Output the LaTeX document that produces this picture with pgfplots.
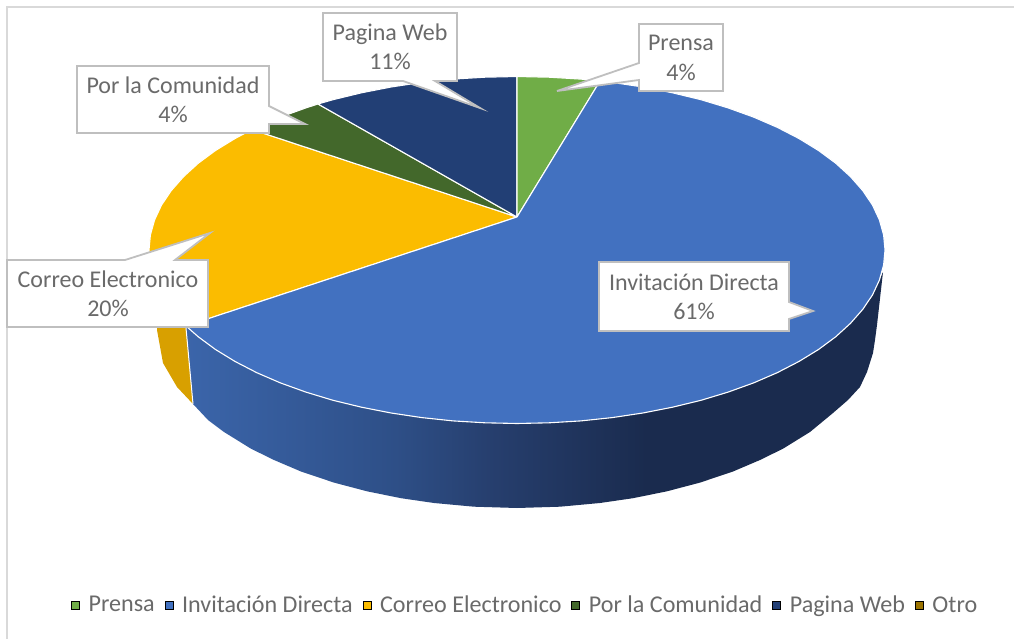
\documentclass[border=0pt]{standalone}
\usepackage{fontspec}
\setmainfont{Carlito}
\usepackage{pgfplots}
\pgfplotsset{compat=1.18}
\definecolor{cgreen}{HTML}{70AD47}
\definecolor{cblue}{HTML}{4271C0}
\definecolor{cyellow}{HTML}{FBBC00}
\definecolor{cdgreen}{HTML}{43682B}
\definecolor{cnavy}{HTML}{223F75}
\definecolor{cotro}{HTML}{9C7400}
\definecolor{cyside}{HTML}{D8A000}
\definecolor{lab}{HTML}{6A6A6A}
\definecolor{bord}{HTML}{BFBFBF}
\definecolor{frame}{HTML}{D9D9D9}
\pgfdeclarehorizontalshading{sideblue}{100bp}{%
 rgb(0bp)=(0.231,0.396,0.667);
 rgb(25bp)=(0.231,0.396,0.667);
 rgb(40bp)=(0.180,0.310,0.530);
 rgb(47bp)=(0.150,0.245,0.430);
 rgb(58bp)=(0.102,0.169,0.306);
 rgb(100bp)=(0.102,0.169,0.306)}
\begin{document}
\begin{tikzpicture}[x=1pt,y=1pt]
\begin{axis}[
  name=a,
  scale only axis, width=1014pt, height=639pt,
  xmin=0, xmax=1014, ymin=0, ymax=639, y dir=reverse,
  hide axis, clip=false,
  slice/.style={forget plot, draw=white, line width=1.1pt, line join=round},
  callout/.style={forget plot, draw=bord, fill=white, line width=1.8pt, line join=miter},
  legend image code/.code={\fill[#1] (0pt,-4pt) rectangle (8pt,4pt);},
  legend columns=-1,
  legend style={at={(axis cs:68,605)}, anchor=west, draw=none, fill=none,
    font=\fontsize{24.1}{28}\selectfont, text=lab,
    /tikz/every odd column/.append style={column sep=7pt},
    /tikz/every even column/.append style={column sep=8pt}},
]
% frame
\addplot[forget plot, draw=frame, line width=2pt] coordinates {(7,639) (7,7) (1014,7)};
% yellow side
\addplot[forget plot, fill=cyside, draw=none] coordinates {
 (161.5,294.9) (157,330) (163,363) (177,387) (193,404) (186,326) (183.5,323.3) (171.2,309.3)} --cycle;
% blue side
\addplot[forget plot, draw=none, shade, shading=sideblue] coordinates {
 (186,326) (198.3,336.8) (215.5,349.5) (235.1,361.5) (256.8,372.7) (280.4,382.9) (305.9,392.1)
 (333,400.3) (361.5,407.2) (391.1,413) (421.8,417.6) (453.1,420.9) (484.9,422.8) (517,423.5)
 (549.1,422.8) (580.9,420.9) (612.2,417.6) (642.9,413) (672.5,407.2) (701,400.3) (728.1,392.1)
 (753.6,382.9) (777.2,372.7) (798.9,361.5) (818.5,349.5) (835.7,336.8) (850.5,323.3) (862.8,309.3)
 (872.5,294.9) (883,272)
 (877,325) (875,340) (873,353) (867,372) (860,387) (848,400) (833,413) (810,432) (783,448.7)
 (760,460) (733,471.5) (700,482.6) (667,491.3) (633,498.2) (600,503) (560,506.7) (517,508)
 (474,506.7) (434,503) (401,498.2) (367,491.3) (334,482.6) (301,471.5) (274,460) (251,448.7)
 (224,432) (208,420) (193,404)} --cycle;
\addplot[forget plot, draw=white, line width=1pt] coordinates {(186,328) (193,404)};
% Correo Electronico top
\addplot[slice, fill=cyellow] coordinates {
 (517,217) (186,326) (183.5,323.3) (171.2,309.3) (161.5,294.9) (154.6,280.1) (150.4,265.1) (149,250)
 (150.4,234.9) (154.6,219.9) (161.5,205.1) (171.2,190.7) (183.5,176.7) (198.3,163.2) (215.5,150.5)
 (235.1,138.5) (252,129.5)} --cycle;
% Por la Comunidad
\addplot[slice, fill=cdgreen] coordinates {
 (517,217) (252,129.5) (256.8,127.3) (280.4,117.1) (305.9,107.9) (318,104)} --cycle;
% Pagina Web
\addplot[slice, fill=cnavy] coordinates {
 (517,217) (318,104) (333,99.7) (361.5,92.8) (391.1,87) (421.8,82.4) (453.1,79.1) (484.9,77.2) (517,76.5)} --cycle;
% Prensa
\addplot[slice, fill=cgreen] coordinates {
 (517,217) (517,76.5) (549.1,77.2) (580.9,79.1) (600,81)} --cycle;
% Invitacion Directa
\addplot[slice, fill=cblue] coordinates {
 (517,217) (600,81) (612.2,82.4) (642.9,87) (672.5,92.8) (701,99.7) (728.1,107.9) (753.6,117.1)
 (777.2,127.3) (798.9,138.5) (818.5,150.5) (835.7,163.2) (850.5,176.7) (862.8,190.7) (872.5,205.1)
 (879.4,219.9) (883.6,234.9) (885,250) (883.6,265.1) (879.4,280.1) (872.5,294.9) (862.8,309.3)
 (850.5,323.3) (835.7,336.8) (818.5,349.5) (798.9,361.5) (777.2,372.7) (753.6,382.9) (728.1,392.1)
 (701,400.3) (672.5,407.2) (642.9,413) (612.2,417.6) (580.9,420.9) (549.1,422.8) (517,423.5)
 (484.9,422.8) (453.1,420.9) (421.8,417.6) (391.1,413) (361.5,407.2) (333,400.3) (305.9,392.1)
 (280.4,382.9) (256.8,372.7) (235.1,361.5) (215.5,349.5) (198.3,336.8) (186,326)} --cycle;
% callouts
\addplot[callout] coordinates {(323,13) (457,13) (457,81) (435,81) (480,108) (403,81) (323,81)} --cycle;
\addplot[callout] coordinates {(77,66) (269,66) (269,106) (305,124) (269,124) (269,133) (77,133)} --cycle;
\addplot[callout] coordinates {(639,24) (723,24) (723,91) (639,91) (639,80) (557,91) (639,63)} --cycle;
\addplot[callout] coordinates {(7,260) (125,260) (210,233) (175,260) (208,260) (208,327) (7,327)} --cycle;
\addplot[callout] coordinates {(599,262) (789,262) (789,302) (813,311) (789,319) (789,331) (599,331)} --cycle;
% labels
\begin{scope}[every node/.style={font=\fontsize{24}{29.5}\selectfont, text=lab, align=center, inner sep=0pt}]
\node at (axis cs:390,47) {Pagina Web\\11\%};
\node at (axis cs:173,100) {Por la Comunidad\\4\%};
\node at (axis cs:681,58) {Prensa\\4\%};
\node at (axis cs:108,294) {Correo Electronico\\20\%};
\node at (axis cs:694,297) {Invitación Directa\\61\%};
\end{scope}
% legend
\addlegendimage{fill=cgreen}\addlegendentry{Prensa}
\addlegendimage{fill=cblue}\addlegendentry{Invitación Directa}
\addlegendimage{fill=cyellow}\addlegendentry{Correo Electronico}
\addlegendimage{fill=cdgreen}\addlegendentry{Por la Comunidad}
\addlegendimage{fill=cnavy}\addlegendentry{Pagina Web}
\addlegendimage{fill=cotro}\addlegendentry{Otro}
\end{axis}
\pgfresetboundingbox
\path[use as bounding box] (a.south west) rectangle (a.north east);
\end{tikzpicture}
\end{document}
